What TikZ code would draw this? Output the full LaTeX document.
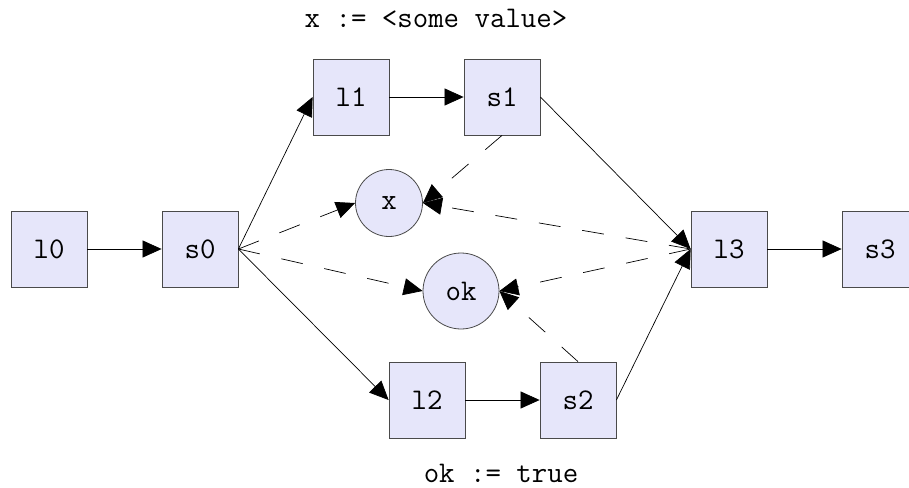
\documentclass[tikz,border=0pt]{standalone}
\usetikzlibrary{arrows.meta}
\definecolor{boxfill}{HTML}{E6E6FA}
\definecolor{boxline}{HTML}{4A4A4A}
\begin{document}
\begin{tikzpicture}[x=1pt,y=-1pt,
  every node/.style={font=\fontsize{30}{32}\selectfont\ttfamily},
  state/.style={rectangle,draw=boxline,fill=boxfill,line width=0.8pt,
    minimum size=76pt,inner sep=0pt},
  var/.style={circle,draw=boxline,fill=boxfill,line width=0.8pt,inner sep=0pt},
  flow/.style={line width=0.7pt,-{Triangle[length=19pt,width=17pt]}},
  dataflow/.style={flow,dash pattern=on 22pt off 22pt},
  note/.style={anchor=base,inner sep=0pt}]
\useasboundingbox (0,0) rectangle (909,487);
\clip (0,0) rectangle (909,487);

% control locations and states
\node[state] (l0) at (49,249) {l0};
\node[state] (s0) at (200,249) {s0};
\node[state] (l1) at (351,97) {l1};
\node[state] (s1) at (502,97) {s1};
\node[state] (l2) at (427,400) {l2};
\node[state] (s2) at (578,400) {s2};
\node[state] (l3) at (729,249) {l3};
\node[state] (s3) at (880,249) {s3};

% shared variables
\node[var,minimum size=67pt] (x) at (389,203) {x};
\node[var,minimum size=76pt] (ok) at (461,291) {ok};

% assignments
\node[note] (ax) at (436,28) {x := <some value>};
\node[note] (aok) at (501,482) {ok := true};

% control flow
\draw[flow] (l0) -- (s0);
\draw[flow] (s0.east) -- (l1.west);
\draw[flow] (l1) -- (s1);
\draw[flow] (s1.east) -- (l3.west);
\draw[flow] (s0.east) -- (l2.west);
\draw[flow] (l2) -- (s2);
\draw[flow] (s2.east) -- (l3.west);
\draw[flow] (l3) -- (s3);

% data flow
\draw[dataflow] (s0.east) -- (x.west);
\draw[dataflow] (s0.east) -- (ok.west);
\draw[dataflow] (s1.south) -- (x.east);
\draw[dataflow] (l3.west) -- (x.east);
\draw[dataflow] (l3.west) -- (ok.east);
\draw[dataflow] (s2.north) -- (ok.east);
\end{tikzpicture}
\end{document}
